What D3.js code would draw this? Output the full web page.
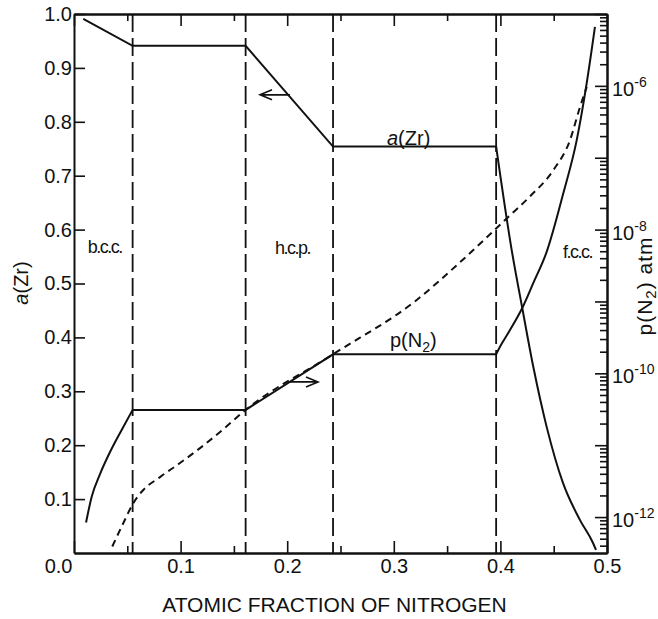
<!DOCTYPE html>
<html>
<head>
<meta charset="utf-8">
<script src="https://cdn.jsdelivr.net/npm/d3@7"></script>
<style>
  body { margin: 0; background: #fff; }
  text { font-family: "Liberation Sans", Arial, sans-serif; fill: #111; }
</style>
</head>
<body>
<svg id="chart" width="658" height="619"></svg>
<script>
// phase boundaries (atomic fraction N)
const phaseBounds = [0.055, 0.161, 0.243, 0.396];

// a(Zr), left axis
const aZrSteps = [[0.0087, 0.991], [0.055, 0.941], [0.161, 0.941], [0.243, 0.754], [0.396, 0.754]];
const aZrFcc = [[0.396, 0.754], [0.4106, 0.562], [0.4205, 0.4545], [0.4309, 0.345], [0.4434, 0.234],
  [0.4587, 0.130], [0.4747, 0.061], [0.4869, 0.0186], [0.4897, 0.0056]];

// p(N2) in atm, right log axis
const pN2Bcc = [[0.0113, 8.4e-13], [0.0166, 1.92e-12], [0.0244, 3.97e-12], [0.0338, 8.04e-12],
  [0.0447, 1.63e-11], [0.055, 3.1e-11]];
const pN2Steps = [[0.055, 3.1e-11], [0.161, 3.1e-11], [0.243, 1.84e-10], [0.396, 1.84e-10]];
const pN2Fcc = [[0.396, 1.84e-10], [0.3996, 2.34e-10], [0.409, 4.0e-10], [0.4205, 8.1e-10],
  [0.4309, 1.81e-9], [0.4434, 4.9e-9], [0.459, 3.2e-8], [0.4716, 1.76e-7], [0.481, 1.1e-6], [0.4887, 6.6e-6]];
const pN2Dashed = [[0.0359, 3.9e-13], [0.0462, 8.2e-13], [0.0556, 1.56e-12], [0.065, 2.38e-12],
  [0.0807, 3.6e-12], [0.0994, 5.65e-12], [0.1182, 9.1e-12], [0.137, 1.53e-11], [0.161, 3.1e-11],
  [0.243, 1.84e-10], [0.3215, 1.05e-9], [0.362, 3.5e-9], [0.4074, 1.5e-8], [0.4278, 2.9e-8],
  [0.4496, 6.7e-8], [0.4653, 1.76e-7], [0.4747, 5.1e-7], [0.481, 9.7e-7]];

const xMajor = [0, 0.1, 0.2, 0.3, 0.4, 0.5];
const xMinor = [0.05, 0.15, 0.25, 0.35, 0.45];
const aTicks = [0.1, 0.2, 0.3, 0.4, 0.5, 0.6, 0.7, 0.8, 0.9, 1.0];
const pDecades = [-12, -11, -10, -9, -8, -7, -6, -5];
const pLabelExps = [-12, -10, -8, -6];

const phaseLabels = [["b.c.c.", 0.013, 0.557], ["h.c.p.", 0.1886, 0.555], ["f.c.c.", 0.4587, 0.547]];

const W = 658, H = 619;
const margin = { top: 14, right: 51, bottom: 66, left: 74 };
const svg = d3.select("#chart");

const x = d3.scaleLinear().domain([0, 0.5]).range([margin.left, W - margin.right]);
const yA = d3.scaleLinear().domain([0, 1]).range([H - margin.bottom, margin.top]);
const yP = d3.scaleLog().domain([Math.pow(10, -12.5), 1e-5]).range([H - margin.bottom, margin.top]);

// vertical phase boundaries
svg.selectAll(".phase")
  .data(phaseBounds)
  .enter().append("line")
  .attr("x1", d => x(d)).attr("x2", d => x(d))
  .attr("y1", margin.top).attr("y2", H - margin.bottom)
  .attr("stroke", "#111").attr("stroke-width", 1.8)
  .attr("stroke-dasharray", "18,6");

const lineA = d3.line().x(d => x(d[0])).y(d => yA(d[1]));
const lineP = d3.line().x(d => x(d[0])).y(d => yP(d[1]));

function drawPath(gen, data, curve, dash) {
  svg.append("path")
    .attr("d", gen.curve(curve)(data))
    .attr("fill", "none")
    .attr("stroke", "#111")
    .attr("stroke-width", 2)
    .attr("stroke-dasharray", dash || null);
}

drawPath(lineP, pN2Dashed, d3.curveMonotoneX, "7,5");
drawPath(lineA, aZrSteps, d3.curveLinear);
drawPath(lineA, aZrFcc, d3.curveMonotoneX);
drawPath(lineP, pN2Bcc, d3.curveMonotoneX);
drawPath(lineP, pN2Steps, d3.curveLinear);
drawPath(lineP, pN2Fcc, d3.curveMonotoneX);

// arrows
function arrow(x0, x1, yy) {
  const dir = Math.sign(x(x1) - x(x0));
  const tx = x(x1), ty = yy;
  svg.append("path")
    .attr("d", `M${x(x0)},${ty}H${tx}M${tx - dir * 12},${ty - 5}L${tx},${ty}L${tx - dir * 12},${ty + 5}`)
    .attr("fill", "none").attr("stroke", "#111").attr("stroke-width", 1.6);
}
arrow(0.2026, 0.1745, yA(0.85));
arrow(0.2026, 0.2289, yP(7.6e-11));

// axes
const axisStyle = g => {
  g.select(".domain").attr("stroke", "#111").attr("stroke-width", 2);
  g.selectAll(".tick line").attr("stroke", "#111").attr("stroke-width", 1.6);
  g.selectAll("text").style("font-size", "20px").attr("fill", "#111");
};

const gx = svg.append("g").attr("transform", `translate(0,${H - margin.bottom})`)
  .call(d3.axisBottom(x).tickValues(xMajor).tickSize(-12).tickSizeOuter(0).tickPadding(6).tickFormat(d3.format(".1f")))
  .call(axisStyle);
gx.selectAll(".tick").filter(d => d === 0).select("text").attr("text-anchor", "end").attr("x", -2);
svg.append("g").attr("transform", `translate(0,${H - margin.bottom})`)
  .call(d3.axisBottom(x).tickValues(xMinor).tickSize(-7).tickSizeOuter(0).tickFormat(""))
  .call(axisStyle);

svg.append("g").attr("transform", `translate(0,${margin.top})`)
  .call(d3.axisTop(x).tickValues(xMajor).tickSize(-12).tickSizeOuter(0).tickFormat(""))
  .call(axisStyle);
svg.append("g").attr("transform", `translate(0,${margin.top})`)
  .call(d3.axisTop(x).tickValues(xMinor).tickSize(-7).tickSizeOuter(0).tickFormat(""))
  .call(axisStyle);

svg.append("g").attr("transform", `translate(${margin.left},0)`)
  .call(d3.axisLeft(yA).tickValues(aTicks).tickSize(-11).tickSizeOuter(0).tickPadding(2).tickFormat(d3.format(".1f")))
  .call(axisStyle);

// right log axis
const pMinor = [];
pDecades.forEach(e => { for (let m = 2; m <= 9; m++) { const v = m * Math.pow(10, e - 1); if (v >= yP.domain()[0]) pMinor.push(v); } });
const pMajor = pDecades.map(e => Math.pow(10, e));
svg.append("g").attr("transform", `translate(${W - margin.right},0)`)
  .call(d3.axisRight(yP).tickValues(pMinor).tickSize(-7).tickSizeOuter(0).tickFormat(""))
  .call(axisStyle);
svg.append("g").attr("transform", `translate(${W - margin.right},0)`)
  .call(d3.axisRight(yP).tickValues(pMajor).tickSize(-12).tickSizeOuter(0).tickFormat(""))
  .call(axisStyle);

const pl = svg.selectAll(".plabel")
  .data(pLabelExps)
  .enter().append("text")
  .attr("x", W - margin.right + 5)
  .attr("y", d => yP(Math.pow(10, d)) + 10)
  .style("font-size", "20px");
pl.append("tspan").text("10");
pl.append("tspan").attr("dy", -9).style("font-size", "14px").text(d => "-" + Math.abs(d));

// phase labels
svg.selectAll(".phlab")
  .data(phaseLabels)
  .enter().append("text")
  .attr("x", d => x(d[1])).attr("y", d => yA(d[2]))
  .style("font-size", "18px").style("letter-spacing", "-1.5px")
  .text(d => d[0]);

// curve labels
const tA = svg.append("text").attr("x", x(0.2936)).attr("y", yA(0.757)).style("font-size", "20px");
tA.append("tspan").style("font-style", "italic").text("a");
tA.append("tspan").text("(Zr)");

const tP = svg.append("text").attr("x", x(0.2964)).attr("y", yA(0.382)).style("font-size", "20px");
tP.append("tspan").text("p(N");
tP.append("tspan").attr("dy", 5).style("font-size", "14px").text("2");
tP.append("tspan").attr("dy", -5).text(")");

// axis titles
svg.append("text")
  .attr("x", (x(0) + x(0.5)) / 2 - 6).attr("y", 612)
  .attr("text-anchor", "middle").style("font-size", "21px")
  .text("ATOMIC FRACTION OF NITROGEN");

const tl = svg.append("text")
  .attr("transform", `translate(28,283) rotate(-90)`)
  .attr("text-anchor", "middle").style("font-size", "20px");
tl.append("tspan").style("font-style", "italic").text("a");
tl.append("tspan").text("(Zr)");

const tr = svg.append("text")
  .attr("transform", `translate(652,286) rotate(-90)`)
  .attr("text-anchor", "middle").style("font-size", "21px").style("letter-spacing", "1px");
tr.append("tspan").text("p(N");
tr.append("tspan").attr("dy", 4).style("font-size", "15px").text("2");
tr.append("tspan").attr("dy", -4).text(") atm");
</script>
</body>
</html>
